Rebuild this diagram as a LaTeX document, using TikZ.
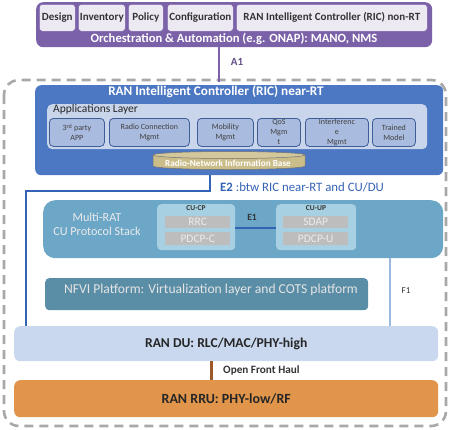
\documentclass[tikz,border=0pt]{standalone}
\usepackage{fontspec}
\setmainfont{Carlito}
\usetikzlibrary{calc}
\definecolor{purp}{HTML}{7B62A8}
\definecolor{lav}{HTML}{ECE9F3}
\definecolor{ricblue}{HTML}{4C77C2}
\definecolor{applay}{HTML}{C9D5EB}
\definecolor{appbox}{HTML}{A9BBDE}
\definecolor{appbd}{HTML}{3F5E98}
\definecolor{tan}{HTML}{CBBD8A}
\definecolor{e2c}{HTML}{3462B4}
\definecolor{mrat}{HTML}{6CA7C7}
\definecolor{cubox}{HTML}{A8D0E3}
\definecolor{grayb}{HTML}{BDBDBD}
\definecolor{nfvi}{HTML}{5A8DA6}
\definecolor{f1c}{HTML}{9DB8E0}
\definecolor{duc}{HTML}{C9D8EF}
\definecolor{rruc}{HTML}{E0954B}
\definecolor{dashc}{HTML}{A8A8A8}
\definecolor{fhc}{HTML}{9C5A2A}
\tikzset{
  box/.style={anchor=north west, inner sep=0pt, align=center},
  topbox/.style={box, fill=lav, draw=purp, line width=0.6pt, rounded corners=3pt, font=\fontsize{11}{12}\selectfont\bfseries, text=black!80},
  appsub/.style={box, fill=appbox, draw=appbd, line width=0.8pt, rounded corners=4pt, font=\fontsize{8}{10}\selectfont, text=black!75},
  graybox/.style={box, fill=grayb, font=\fontsize{11.5}{12}\selectfont, text=white!92!black},
  cubx/.style={box, fill=cubox, rounded corners=4pt},
  lbl/.style={inner sep=0pt, align=center},
}
\begin{document}
\begin{tikzpicture}[x=1pt,y=-1pt]
\useasboundingbox (0,0) rectangle (450,429);
% dashed frame
\draw[dashc, line width=2.6pt, dash pattern=on 9pt off 6pt, rounded corners=15pt] (4,80) rectangle (446,426);
% top orchestration
\node[box, fill=purp, rounded corners=7pt, minimum width=396pt, minimum height=45pt] (orch) at (36,2) {};
\node[topbox, minimum width=36pt, minimum height=27pt] (design) at (39,4) {Design};
\node[topbox, minimum width=47pt, minimum height=27pt] (inv) at (78,4) {Inventory};
\node[topbox, minimum width=35pt, minimum height=27pt] (pol) at (128,4) {Policy};
\node[topbox, minimum width=66pt, minimum height=27pt] (conf) at (167,4) {Configuration};
\node[topbox, minimum width=191pt, minimum height=27pt] (nonrt) at (236,4) {RAN Intelligent Controller (RIC) non-RT};
\node[lbl, text=white, font=\fontsize{12.6}{13}\selectfont\bfseries] (orcht) at (234,39) {Orchestration \& Automation (e.g. ONAP): MANO, NMS};
% A1
\coordinate (a1end) at (219,82);
\draw[purp, line width=2.5pt] (orch.south -| a1end) -- (a1end);
\node[lbl, text=purp!80!black, font=\fontsize{11}{12}\selectfont\bfseries] (a1) at (237,62) {A1};
% RIC near-RT
\node[box, fill=ricblue, rounded corners=6pt, minimum width=408pt, minimum height=90pt] (ric) at (35,85) {};
\node[lbl, text=white, font=\fontsize{13.2}{14}\selectfont\bfseries] (rict) at (216,92) {RAN Intelligent Controller (RIC) near-RT};
\node[box, fill=applay, rounded corners=5pt, minimum width=380pt, minimum height=45pt] (app) at (47,104) {};
\node[anchor=north west, inner sep=0pt, font=\fontsize{11.5}{12}\selectfont, text=black!85] (appt) at (53,104.5) {Applications Layer};
\node[appsub, minimum width=55pt, minimum height=28pt] (s1) at (49,118) {3\textsuperscript{rd} party\\APP};
\node[appsub, minimum width=80pt, minimum height=28pt] (s2) at (109,118) {Radio Connection\\Mgmt};
\node[appsub, minimum width=56pt, minimum height=28pt] (s3) at (197,118) {Mobility\\Mgmt};
\node[appsub, minimum width=43pt, minimum height=28pt] (s4) at (257,118) {QoS\\Mgm\\t};
\node[appsub, minimum width=63pt, minimum height=28pt] (s5) at (305,118) {Interferenc\\e\\Mgmt};
\node[appsub, minimum width=43pt, minimum height=28pt] (s6) at (372,118) {Trained\\Model};
% cylinder
\fill[tan] (153,155) -- (153,166) arc[start angle=180, end angle=360, x radius=76pt, y radius=3.5pt] -- (305,155) -- cycle;
\draw[black!55, line width=0.5pt] (153,155) -- (153,166) arc[start angle=180, end angle=360, x radius=76pt, y radius=3.5pt] -- (305,155);
\draw[black!55, fill=tan!85!white, line width=0.5pt] (229,155) ellipse[x radius=76pt, y radius=3.5pt];
\node[lbl, text=white, font=\fontsize{9.2}{10}\selectfont\bfseries] (rnib) at (228,163) {Radio-Network Information Base};
% Multi-RAT
\node[box, fill=mrat, rounded corners=12pt, minimum width=400pt, minimum height=58pt] (mrat) at (43,200) {};
\node[lbl, text=white!92!black, font=\fontsize{12.2}{14}\selectfont] (mratt) at (97,224) {Multi-RAT\\CU Protocol Stack};
\node[cubx, minimum width=78pt, minimum height=46pt] (cucp) at (157,204) {};
\node[cubx, minimum width=80pt, minimum height=46pt] (cuup) at (276,204) {};
\node[lbl, font=\fontsize{7.5}{8}\selectfont\bfseries, text=black!80] (cucpt) at (196,208.5) {CU-CP};
\node[lbl, font=\fontsize{7.5}{8}\selectfont\bfseries, text=black!80] (cuupt) at (316,208.5) {CU-UP};
\node[graybox, minimum width=65pt, minimum height=12pt] (rrc) at (165,216) {RRC};
\node[graybox, minimum width=65pt, minimum height=13pt] (pdcpc) at (165,232) {PDCP-C};
\node[graybox, minimum width=65pt, minimum height=12pt] (sdap) at (283,216) {SDAP};
\node[graybox, minimum width=65pt, minimum height=13pt] (pdcpu) at (283,232) {PDCP-U};
\draw[e2c, line width=2.5pt] (cucp.east) ++(0,1) coordinate (e1a) -- (e1a -| cuup.west);
\node[lbl, font=\fontsize{9.5}{10}\selectfont\bfseries, text=black!80] (e1) at (252,217) {E1};
% NFVI
\node[box, fill=nfvi, rounded corners=4pt, minimum width=323pt, minimum height=32pt] (nfvi) at (45,278) {};
\node[lbl, text=white!90!black, font=\fontsize{13.6}{14}\selectfont] (nfvit) at (211,290) {NFVI Platform: Virtualization layer and COTS platform};
% DU and RRU
\node[box, fill=duc, rounded corners=6pt, minimum width=424pt, minimum height=35pt, font=\fontsize{13.6}{14}\selectfont\bfseries, text=black!85] (du) at (14,326) {RAN DU: RLC/MAC/PHY-high};
\node[box, fill=rruc, rounded corners=6pt, minimum width=424pt, minimum height=37pt, font=\fontsize{14}{15}\selectfont\bfseries, text=black!85] (rru) at (14,380) {RAN RRU: PHY-low/RF};
% E2
\coordinate (e2a) at (210,191);
\coordinate (e2b) at (26,191);
\draw[e2c, line width=2.5pt] (ric.south -| e2a) -- (e2a) -- (e2b) -- (e2b |- du.north);
\node[anchor=west, inner sep=0pt, text=e2c, font=\fontsize{12.8}{13}\selectfont] (e2) at (220,187) {\textbf{E2} :btw RIC near-RT and CU/DU};
% F1
\coordinate (f1x) at (390,290);
\draw[f1c, line width=2pt] (mrat.south -| f1x) -- (f1x |- du.north);
\node[lbl, font=\fontsize{9}{10}\selectfont, text=black!80] (f1) at (406,291) {F1};
% Front haul
\coordinate (fhx) at (211,370);
\draw[fhc, line width=3pt] (du.south -| fhx) -- (fhx |- rru.north);
\node[anchor=west, inner sep=0pt, font=\fontsize{11.2}{12}\selectfont\bfseries, text=black!80] (fh) at (223,370) {Open Front Haul};
\end{tikzpicture}
\end{document}
